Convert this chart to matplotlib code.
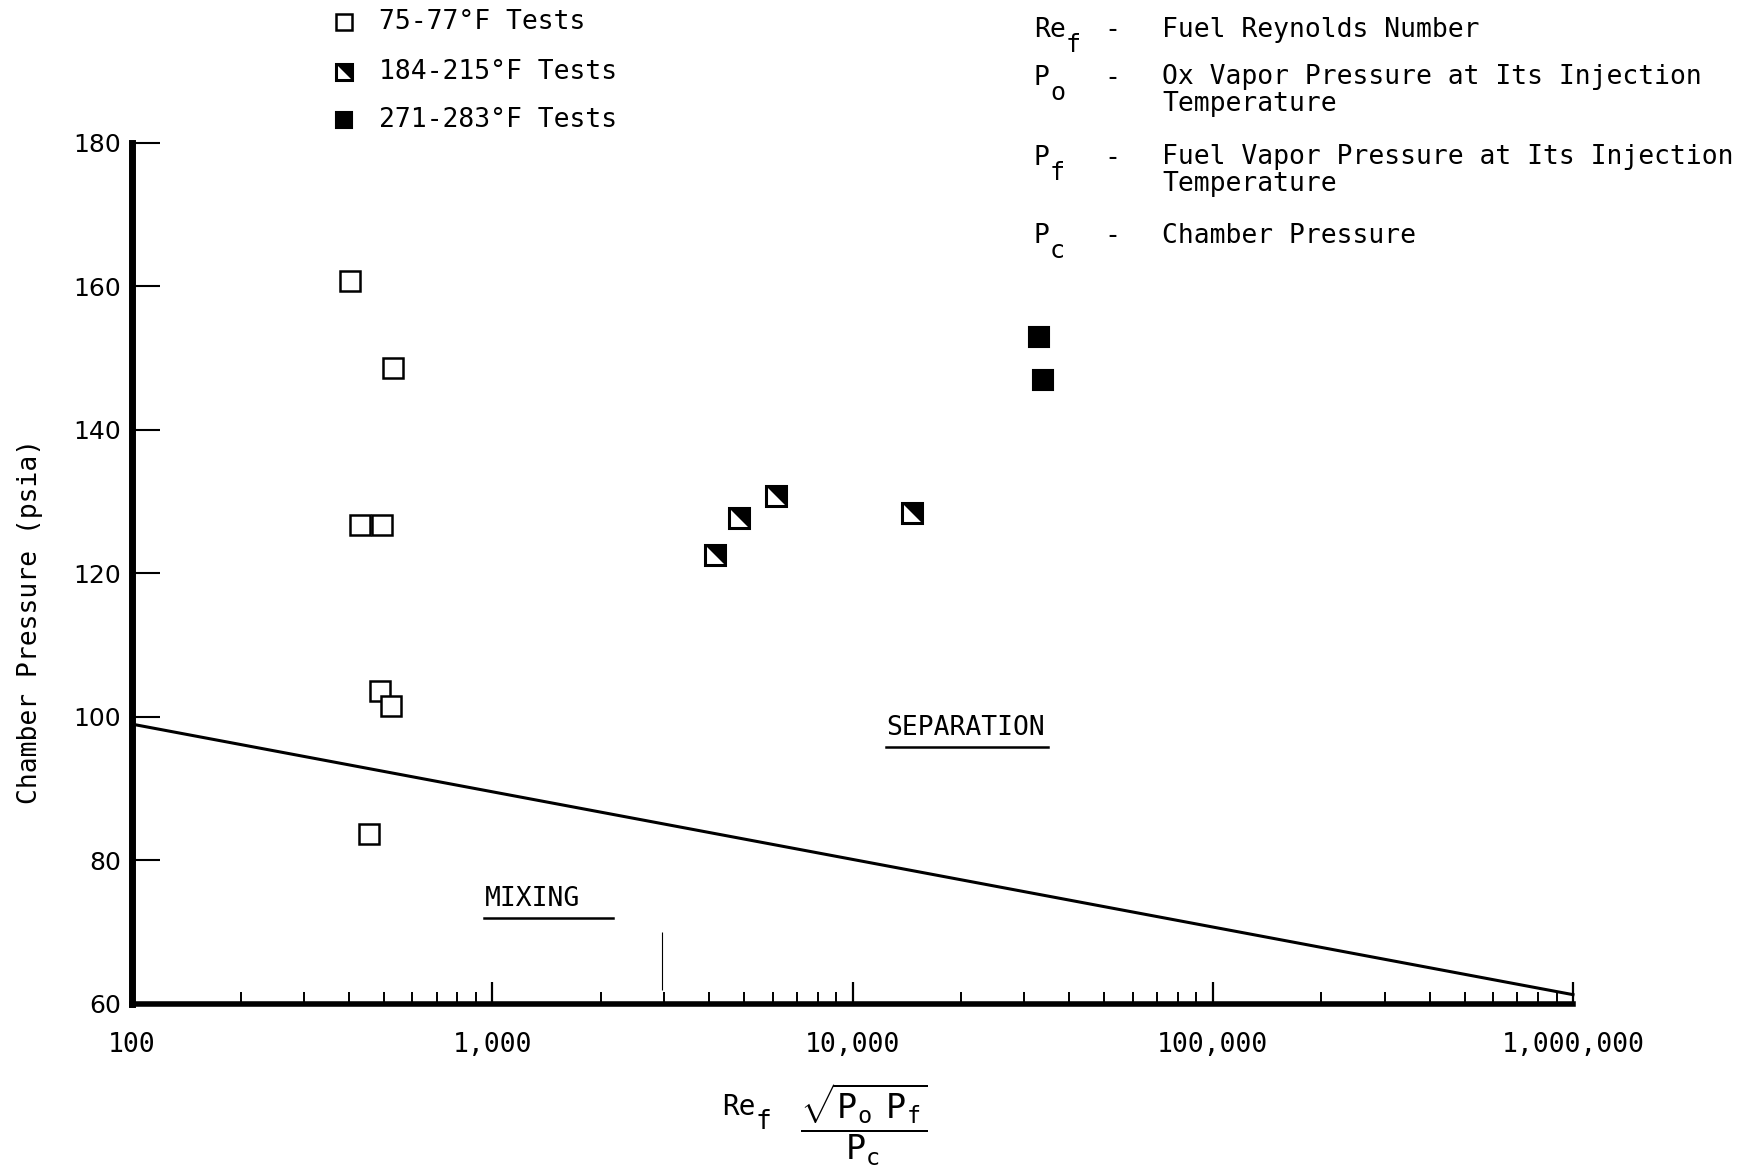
import numpy as np
import matplotlib
matplotlib.use("Agg")
import matplotlib.pyplot as plt
import matplotlib.ticker as ticker
from matplotlib.lines import Line2D

plt.rcParams['font.family'] = ['DejaVu Sans Mono', 'DejaVu Sans']
plt.rcParams['mathtext.fontset'] = 'custom'
plt.rcParams['mathtext.rm'] = 'DejaVu Sans Mono'
plt.rcParams['mathtext.it'] = 'DejaVu Sans Mono'

# 75-77 F tests (open squares)
cold_x = [403, 529, 430, 493, 489, 525, 455]
cold_y = [160.8, 148.7, 126.7, 126.7, 103.6, 101.5, 83.7]
# 184-215 F tests (half shaded)
warm_x = [4150, 4850, 6150, 14600]
warm_y = [122.6, 127.8, 130.8, 128.4]
# 271-283 F tests (dark)
hot_x = [33000, 33700]
hot_y = [152.9, 147.0]

# mixing / separation boundary
boundary_x = [100, 1e6]
boundary_y = [99.0, 61.3]

# stray vertical mark on the scan
stub_x = 2965
stub_y = [62.0, 70.1]

legend_labels = ['75-77°F Tests', '184-215°F Tests', '271-283°F Tests']
def_syms = [('Re', 'f'), ('P', 'o'), ('P', 'f'), ('P', 'c')]
def_texts = ['Fuel Reynolds Number',
             'Ox Vapor Pressure at Its Injection\nTemperature',
             'Fuel Vapor Pressure at Its Injection\nTemperature',
             'Chamber Pressure']

x_ticks = [100, 1000, 10000, 100000, 1000000]
y_ticks = [60, 80, 100, 120, 140, 160, 180]

fig = plt.figure(figsize=(17.54, 11.70), dpi=100)
ax = fig.add_axes([0.0753, 0.1419, 0.8215, 0.7359])

ms = 15
tri = [(-1, 1), (1, 1), (1, -1)]

ax.plot(cold_x, cold_y, 's', ms=ms, mfc='white', mec='black', mew=1.8, zorder=3)
ax.plot(warm_x, warm_y, marker=tri, ls='none', ms=ms, mfc='black', mew=0, zorder=3)
ax.plot(warm_x, warm_y, 's', ms=ms, mfc='none', mec='black', mew=2.2, zorder=4)
ax.plot(hot_x, hot_y, 's', ms=ms, mfc='black', mec='black', mew=1.5, zorder=3)

ax.plot(boundary_x, boundary_y, color='black', lw=2.2, clip_on=False)
ax.vlines(stub_x, stub_y[0], stub_y[1], color='black', lw=0.8)

ax.set_xscale('log')
ax.set_xlim(100, 1e6)
ax.set_ylim(60, 180)
ax.set_xticks(x_ticks)
ax.xaxis.set_major_formatter(ticker.FuncFormatter(lambda v, p: f'{int(round(v)):,}'))
ax.xaxis.set_minor_locator(ticker.LogLocator(base=10, subs=np.arange(2, 10)))
ax.xaxis.set_minor_formatter(ticker.NullFormatter())
ax.set_yticks(y_ticks)

for s in ['top', 'right']:
    ax.spines[s].set_visible(False)
ax.spines['left'].set_linewidth(5)
ax.spines['bottom'].set_linewidth(4)

ax.tick_params(axis='x', which='major', direction='in', length=16, width=1.6,
               labelsize=19, pad=20)
ax.tick_params(axis='x', which='minor', direction='in', length=9, width=1.4)
ax.tick_params(axis='y', which='major', direction='in', length=20, width=1.5,
               labelsize=18, pad=8)
for lab in ax.get_yticklabels():
    lab.set_family('DejaVu Sans')

# region labels
t_mix = ax.text(951, 74.7, 'MIXING', fontsize=19, va='center', ha='left')
t_sep = ax.text(12390, 98.5, 'SEPARATION', fontsize=19, va='center', ha='left')

fig.text(0.017, 0.469, 'Chamber Pressure (psia)', rotation=90, fontsize=19,
         ha='center', va='center')

# x axis label: Re_f sqrt(Po Pf) / Pc
fig.text(722 / 1754, 1 - 1107 / 1170, 'Re', fontsize=20, ha='left', va='center')
fig.text(756 / 1754, 1 - 1122 / 1170, 'f', fontsize=19, ha='left', va='center')
fig.text(864 / 1754, 1 - 1125 / 1170,
         r'$\dfrac{\sqrt{\mathrm{P}_\mathrm{o}\ \ \mathrm{P}_\mathrm{f}}}{\mathrm{P}_\mathrm{c}}$',
         fontsize=24, ha='center', va='center')

# legend drawn by hand above the axes
leg_y = [1 - 22 / 1170, 1 - 72 / 1170, 1 - 120 / 1170]
mx = 344 / 1754
mk = 12
fig.add_artist(Line2D([mx], [leg_y[0]], marker='s', ms=mk, mfc='white', mec='black', mew=1.8,
                      transform=fig.transFigure))
fig.add_artist(Line2D([mx], [leg_y[1]], marker=tri, ms=mk, mfc='black', mew=0,
                      transform=fig.transFigure))
fig.add_artist(Line2D([mx], [leg_y[1]], marker='s', ms=mk, mfc='none', mec='black', mew=2.2,
                      transform=fig.transFigure))
fig.add_artist(Line2D([mx], [leg_y[2]], marker='s', ms=mk, mfc='black', mec='black', mew=1.5,
                      transform=fig.transFigure))
for yy, lab in zip(leg_y, legend_labels):
    fig.text(379 / 1754, yy, lab, fontsize=19, ha='left', va='center')

# definitions block
def_rows = [30, 78, 158, 236]
for row, (base, sub), txt in zip(def_rows, def_syms, def_texts):
    yy = 1 - row / 1170
    fig.text(1034 / 1754, yy, base, fontsize=19, ha='left', va='center')
    sub_x = 1034 + (len(base) * 16)
    fig.text(sub_x / 1754, 1 - (row + 15) / 1170, sub, fontsize=18, ha='left', va='center')
    fig.text(1104 / 1754, yy, '-', fontsize=19, ha='left', va='center')
    if '\n' in txt:
        fig.text(1162 / 1754, 1 - (row - 14) / 1170, txt, fontsize=19, ha='left', va='top',
                 linespacing=1.05)
    else:
        fig.text(1162 / 1754, yy, txt, fontsize=19, ha='left', va='center')

# underline the region labels
fig.canvas.draw()
r = fig.canvas.get_renderer()
for t, extra in [(t_mix, 1.35), (t_sep, 1.02)]:
    bb = t.get_window_extent(r)
    x0, x1 = bb.x0, bb.x0 + (bb.x1 - bb.x0) * extra
    yl = bb.y0 - 6
    fig.add_artist(Line2D([x0 / fig.bbox.width, x1 / fig.bbox.width],
                          [yl / fig.bbox.height, yl / fig.bbox.height],
                          color='black', lw=1.8, transform=fig.transFigure))

fig.savefig('out.png', dpi=100)
